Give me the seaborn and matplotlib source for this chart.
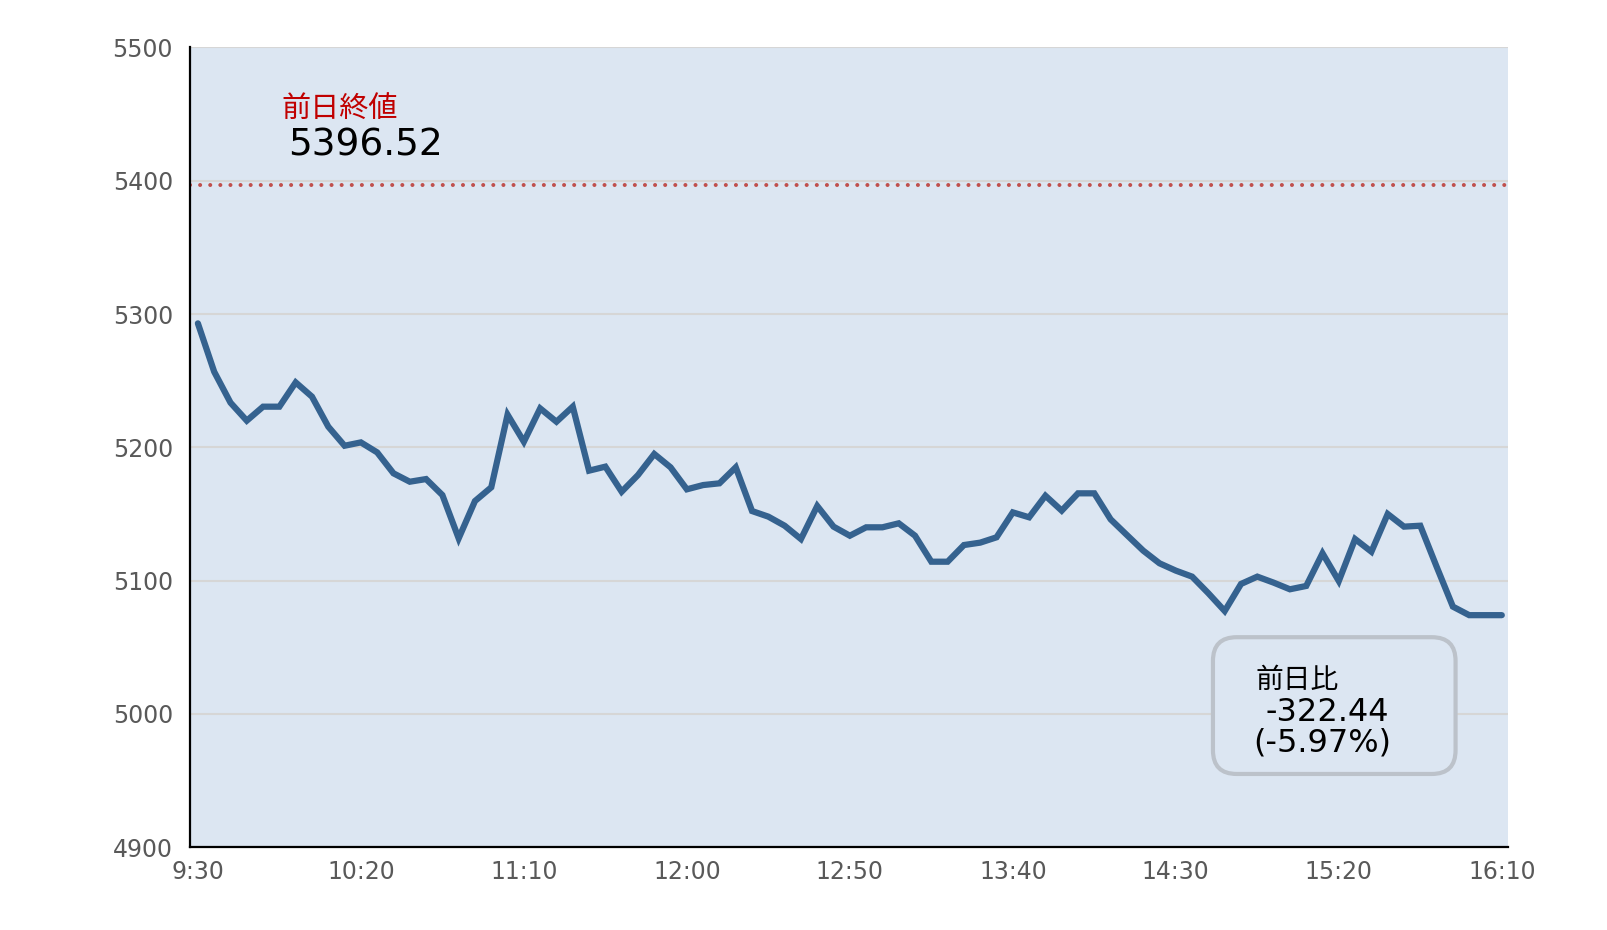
import numpy as np
import pandas as pd
import seaborn as sns
import matplotlib.pyplot as plt
from matplotlib.patches import FancyBboxPatch
from matplotlib.ticker import FixedLocator

# 5分足 9:30 - 16:10
prices = [
    5293.0, 5256.7, 5233.5, 5220.0, 5230.5, 5230.5, 5248.7, 5238.0, 5215.5, 5201.2,
    5203.7, 5196.2, 5180.5, 5174.2, 5176.2, 5164.2, 5131.7, 5159.7, 5170.0, 5224.5,
    5204.2, 5229.2, 5219.2, 5230.5, 5182.5, 5185.5, 5166.7, 5179.2, 5195.0, 5185.0,
    5168.5, 5171.7, 5173.0, 5185.0, 5152.2, 5148.0, 5141.2, 5131.2, 5156.0, 5140.5,
    5133.7, 5140.0, 5140.0, 5143.0, 5133.7, 5114.2, 5114.2, 5126.7, 5128.5, 5132.5,
    5151.2, 5147.5, 5163.7, 5152.5, 5165.5, 5165.5, 5146.0, 5134.2, 5122.5, 5113.0,
    5107.5, 5103.0, 5090.5, 5077.2, 5097.5, 5103.0, 5098.5, 5093.5, 5096.0, 5120.5,
    5099.7, 5131.2, 5121.7, 5150.0, 5140.5, 5141.2, 5110.5, 5080.5, 5074.1, 5074.1,
    5074.1,
]
times = [t.strftime('%-H:%M') for t in pd.date_range('2024-01-01 09:30', periods=len(prices), freq='5min')]
tick_labels = ['9:30', '10:20', '11:10', '12:00', '12:50', '13:40', '14:30', '15:20', '16:10']
prev_close = 5396.52
change = -322.44
change_pct = -5.97

df = pd.DataFrame({'idx': np.arange(len(prices)), 'time': times, 'price': prices})

sns.set_style('white')
plt.rcParams['font.family'] = ['DejaVu Sans', 'Noto Sans CJK JP']
plt.rcParams['xtick.direction'] = 'in'
plt.rcParams['ytick.direction'] = 'in'

bg = '#DCE6F2'
fig = plt.figure(figsize=(16.08, 9.30), dpi=100)
ax = fig.add_axes([0.118, 0.089, 0.820, 0.860])
ax.set_facecolor(bg)

sns.lineplot(data=df, x='idx', y='price', ax=ax, color='#35628F', linewidth=4.5,
             solid_joinstyle='miter', zorder=3)
ax.axhline(prev_close, color='#C0504D', linewidth=2.9, linestyle=(0, (0.01, 2.5)),
           dash_capstyle='round', zorder=2)

ax.set_xlim(-0.5, 80.4)
ax.set_ylim(4900, 5500)
ax.set_yticks(np.arange(4900, 5501, 100))
ax.yaxis.grid(True, color='#D6D6D6', linewidth=1.5, zorder=0)
ax.set_axisbelow(True)

tick_pos = [times.index(t) for t in tick_labels]
ax.set_xticks(tick_pos)
ax.set_xticklabels(tick_labels)
ax.xaxis.set_minor_locator(FixedLocator([p + 4.5 for p in tick_pos[:-1]]))
ax.tick_params(axis='x', which='major', length=0, pad=9, labelsize=17, labelcolor='#595959')
ax.tick_params(axis='x', which='minor', length=4, width=2, color='black')
ax.tick_params(axis='y', length=4.5, width=2, color='black', pad=12, labelsize=17,
               labelcolor='#595959')
ax.set_xlabel('')
ax.set_ylabel('')

for s in ['top', 'right']:
    ax.spines[s].set_visible(False)
for s in ['left', 'bottom']:
    ax.spines[s].set_color('black')
    ax.spines[s].set_linewidth(1.6)

# 前日終値
ax.text(0.0698, 0.9216, '前日終値', transform=ax.transAxes, fontsize=21, color='#C00000',
        ha='left', va='center')
ax.text(0.0744, 0.877, f'{prev_close:.2f}', transform=ax.transAxes, fontsize=27, color='black',
        ha='left', va='center')

# 前日比ボックス
box = FancyBboxPatch((0.776, 0.0916), 0.184, 0.171, transform=ax.transAxes,
                     boxstyle='round,pad=0,rounding_size=0.018', mutation_aspect=1318 / 800,
                     facecolor=bg, edgecolor='#BCC2CA', linewidth=3, zorder=4)
ax.add_patch(box)
ax.text(0.808, 0.209, '前日比', transform=ax.transAxes, fontsize=20, color='black',
        ha='left', va='center', zorder=5)
ax.text(0.8156, 0.168, f'{change:.2f}', transform=ax.transAxes, fontsize=23, color='black',
        ha='left', va='center', zorder=5)
ax.text(0.8065, 0.1304, f'({change_pct:.2f}%)', transform=ax.transAxes, fontsize=23, color='black',
        ha='left', va='center', zorder=5)

plt.savefig('out.png', dpi=100)
